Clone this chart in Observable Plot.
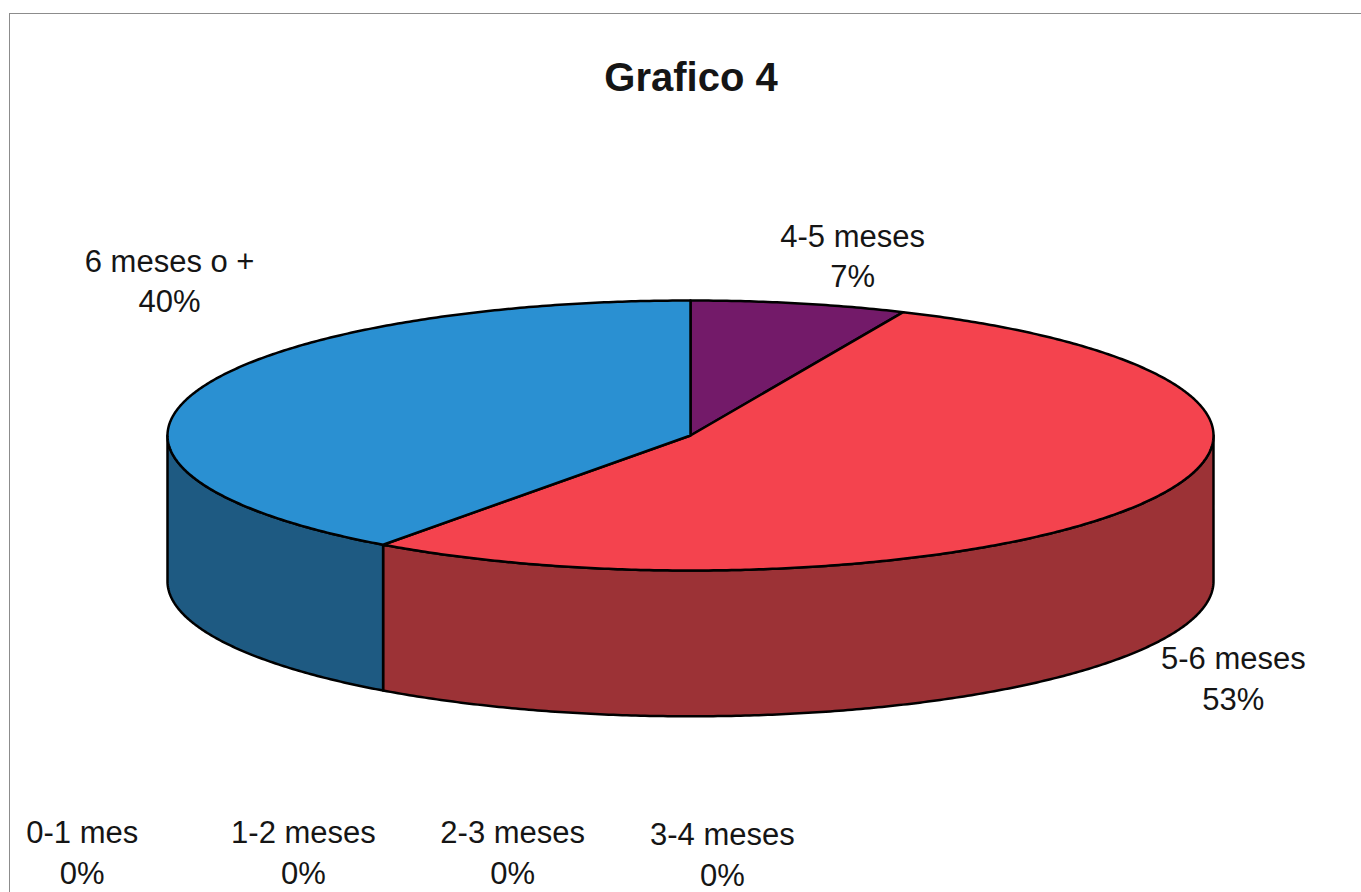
<!DOCTYPE html>
<html>
<head>
<meta charset="utf-8">
<script src="https://cdn.jsdelivr.net/npm/d3@7"></script>
<script src="https://cdn.jsdelivr.net/npm/@observablehq/plot@0.6"></script>
<style>
  html, body { margin: 0; padding: 0; background: #fff; }
  #wrap { position: relative; width: 1361px; height: 892px; overflow: hidden; }
  #frame { position: absolute; left: 9px; top: 13px; width: 1400px; height: 1000px;
           border-top: 1.5px solid #8c8c8c; border-left: 1.5px solid #8c8c8c; pointer-events: none; }
  #chart { position: absolute; left: 0; top: 0; }
</style>
</head>
<body>
<div id="wrap"><div id="chart"></div><div id="frame"></div></div>
<script>
// ---- data ----
const title = "Grafico 4";
const categories = ["0-1 mes", "1-2 meses", "2-3 meses", "3-4 meses", "4-5 meses", "5-6 meses", "6 meses o +"];
const counts = [0, 0, 0, 0, 1, 8, 6];

// ---- style / layout (not data) ----
const topColors  = ["#3a56a0", "#8a2a5a", "#e8e070", "#90d0e0", "#731a69", "#f4434e", "#2a90d2"];
const sideColors = ["#263a6a", "#5a1a3a", "#9a9448", "#5e8a94", "#4a1044", "#9c3236", "#1e5a82"];
const depth = 1.08;                   // wall height in units of the vertical radius
// label centres, in pie units (x: horizontal radius, y: vertical radius, downwards)
const labelX = [-1.163, -0.740, -0.340, 0.061, 0.310, 1.038, -0.996];
const labelY = [3.074, 3.074, 3.074, 3.089, -1.344, 1.785, -1.160];

// ---- geometry built from the data ----
const total = d3.sum(counts);
const fractions = counts.map(c => c / total);
const starts = [];
let acc = 0;
for (const f of fractions) { starts.push(acc); acc += f; }

const step = Math.PI / 360;
function arc(a0, a1, dy) {
  const pts = [];
  const n = Math.max(1, Math.ceil((a1 - a0) / step));
  for (let k = 0; k <= n; k++) {
    const t = a0 + (a1 - a0) * k / n;
    pts.push({x: Math.sin(t), y: -Math.cos(t) + dy});
  }
  return pts;
}

const sides = [], tops = [];
categories.forEach((c, i) => {
  if (counts[i] <= 0) return;
  const a0 = starts[i] * 2 * Math.PI, a1 = (starts[i] + fractions[i]) * 2 * Math.PI;
  tops.push({i, pts: [{x: 0, y: 0}, ...arc(a0, a1, 0)]});
  const s0 = Math.max(a0, Math.PI / 2), s1 = Math.min(a1, 3 * Math.PI / 2);
  if (s0 < s1) {
    sides.push({i, pts: [...arc(s0, s1, 0), ...arc(s0, s1, depth).reverse()]});
  }
});

const labels = categories.map((c, i) => ({
  text: `${c}\n${Math.round(fractions[i] * 100)}%`,
  x: labelX[i], y: labelY[i]
}));

const polyMark = (p, color) => Plot.line(p.pts, {
  x: "x", y: "y", curve: "linear-closed", fill: color,
  stroke: "#000", strokeWidth: 2.5, strokeLinejoin: "round"
});

const chart = Plot.plot({
  width: 1361, height: 892, margin: 0,
  style: {fontFamily: "'Liberation Sans', Arial, sans-serif", background: "transparent"},
  x: {domain: [-1, 1], range: [167, 1213], axis: null},
  y: {domain: [-1, 1], range: [300, 570], axis: null},
  marks: [
    ...sides.map(p => polyMark(p, sideColors[p.i])),
    ...tops.map(p => polyMark(p, topColors[p.i])),
    Plot.text(labels, {x: "x", y: "y", text: "text", fontSize: 31, lineHeight: 1.3, fill: "#151515", textAnchor: "middle"}),
    Plot.text([title], {frameAnchor: "top", dx: 10, dy: 78, fontSize: 40, fontWeight: "bold", fill: "#151515", lineAnchor: "middle"})
  ]
});
document.getElementById("chart").appendChild(chart);
</script>
</body>
</html>
